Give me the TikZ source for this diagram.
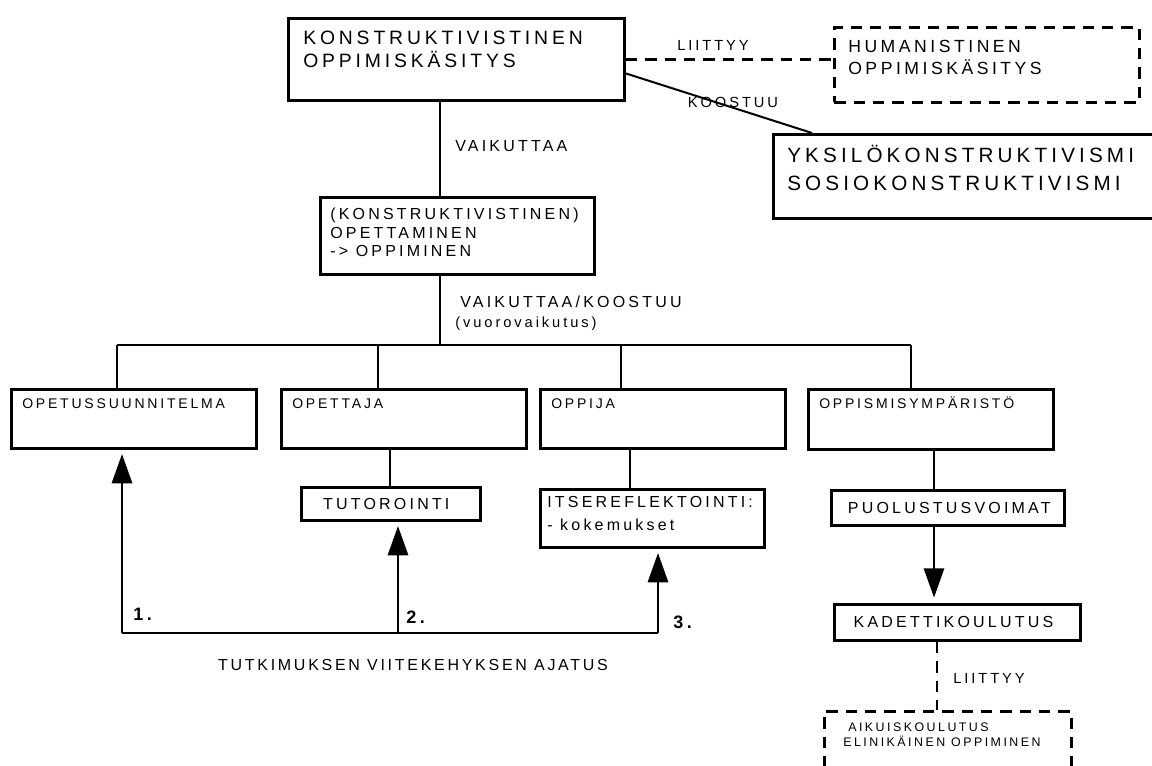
\documentclass[tikz,border=0pt]{standalone}
\usepackage{fontspec}
\setmainfont{Liberation Sans}[LetterSpace=20]
\newfontfamily\captionfont{Liberation Sans}[LetterSpace=17]
\usetikzlibrary{arrows.meta}

\tikzset{
  px/.style={x=0.75pt, y=-0.75pt},
  frame/.style 2 args={draw, line width=2.2pt, inner sep=0pt, anchor=north west,
    minimum width=#1*0.75pt, minimum height=#2*0.75pt},
  dframe/.style 2 args={frame={#1}{#2}, dash pattern=on 8.5pt off 6pt},
  link/.style={line width=2.2pt},
  dlink/.style={line width=2.2pt, dash pattern=on 8.5pt off 6pt},
  thinlink/.style={line width=1.5pt},
  uparrow/.style={line width=2.2pt, -{Triangle[length=22pt, width=15pt]}, shorten >=3pt},
  txt/.style={inner sep=0pt, anchor=base west, align=left},
  ctxt/.style={inner sep=0pt, anchor=center},
  toptext/.style={font=\fontsize{14.5pt}{17.25pt}\selectfont},
  humtext/.style={font=\fontsize{13.2pt}{16.5pt}\selectfont},
  ykstext/.style={font=\fontsize{15.5pt}{21pt}\selectfont},
  midtext/.style={font=\fontsize{12pt}{13.9pt}\selectfont},
  boxtext/.style={font=\fontsize{10.5pt}{12pt}\selectfont},
  subtext/.style={font=\fontsize{12pt}{17.25pt}\selectfont},
  labeltext/.style={font=\fontsize{11pt}{13pt}\selectfont},
  biglabel/.style={font=\fontsize{12pt}{14pt}\selectfont},
  captiontext/.style={font=\captionfont\fontsize{12pt}{14pt}\selectfont},
  smalltext/.style={font=\fontsize{9.3pt}{10.5pt}\selectfont},
  numtext/.style={font=\fontsize{13.5pt}{15pt}\selectfont\bfseries},
}

\begin{document}
\begin{tikzpicture}[px]
\useasboundingbox (0,0) rectangle (1152,766);
\clip (0,0) rectangle (1152,766);

% --- top level (text nodes are placed by the baseline of their last line) ---
\node[frame={336}{82}] (top) at (287,17) {};
\node[txt, toptext] (toptxt) at (303,68)
  {KONSTRUKTIVISTINEN\\OPPIMISKÄSITYS};

\node[dframe={305}{75}] (hum) at (833,26) {};
\node[txt, humtext] (humtxt) at (848,75) {HUMANISTINEN\\OPPIMISKÄSITYS};

\node[frame={400}{84}] (yks) at (772,133) {};
\node[txt, ykstext] (ykstxt) at (787,191)
  {YKSILÖKONSTRUKTIVISMI\\SOSIOKONSTRUKTIVISMI};

\draw[dlink] (top.east) -- (top.east -| hum.west);
\node[ctxt, labeltext] (lbl1) at (713,45) {LIITTYY};
\draw[thinlink] ([yshift=-10.5pt]top.east) -- ([xshift=30pt]yks.north west);
\node[ctxt, labeltext] (lbl2) at (733,102) {KOOSTUU};

% --- teaching box ---
\coordinate (hub) at (440,345);
\node[frame={274}{77}] (mid) at (319,196) {};
\node[txt, midtext] (midtxt) at (330,257)
  {(KONSTRUKTIVISTINEN)\\OPETTAMINEN\\-> OPPIMINEN};
\draw[link] (top.south -| hub) -- (mid.north -| hub);
\node[txt, biglabel] (lbl3) at (455,152) {VAIKUTTAA};
\draw[link] (mid.south -| hub) -- (hub);
\node[txt, biglabel] (lbl4) at (460,308) {VAIKUTTAA/KOOSTUU};
\node[txt, labeltext] (lbl5) at (455,328) {(vuorovaikutus)};

% --- four components ---
\node[frame={245}{59}] (b1) at (10,388) {};
\node[frame={245}{59}] (b2) at (280,388) {};
\node[frame={245}{59}] (b3) at (539,388) {};
\node[frame={245}{60}] (b4) at (807,388) {};
\node[txt, boxtext] (b1txt) at (22,408) {OPETUSSUUNNITELMA};
\node[txt, boxtext] (b2txt) at (292,408) {OPETTAJA};
\node[txt, boxtext] (b3txt) at (551,408) {OPPIJA};
\node[txt, boxtext] (b4txt) at (819,408) {OPPISMISYMPÄRISTÖ};

\coordinate (t1) at (117,345);
\coordinate (t2) at (378,345);
\coordinate (t3) at (621,345);
\coordinate (t4) at (911,345);
\draw[link] (t1) -- (t4);
\draw[link] (t1) -- (t1 |- b1.north);
\draw[link] (t2) -- (t2 |- b2.north);
\draw[link] (t3) -- (t3 |- b3.north);
\draw[link] (t4) -- (t4 |- b4.north);

% --- second level ---
\node[frame={179}{33}] (tut) at (300,486) {};
\node[ctxt, subtext] (tuttxt) at ([xshift=-3.5pt]tut.center) {TUTOROINTI};
\node[frame={224}{58}] (its) at (539,488) {};
\node[txt, subtext] (itstxt) at (547,530) {ITSEREFLEKTOINTI:\\- kokemukset};
\node[frame={233}{35}] (puo) at (830,489) {};
\node[ctxt, subtext] (puotxt) at ([xshift=1pt]puo.center) {PUOLUSTUSVOIMAT};

\coordinate (c2) at (390,467);
\coordinate (c3) at (630,467);
\coordinate (c4) at (934,467);
\draw[link] (b2.south -| c2) -- (tut.north -| c2);
\draw[link] (b3.south -| c3) -- (its.north -| c3);
\draw[link] (b4.south -| c4) -- (puo.north -| c4);

% --- cadet training and adult education ---
\node[frame={246}{36}] (kad) at (833,603) {};
\node[ctxt, subtext] (kadtxt) at ([xshift=-3pt]kad.center) {KADETTIKOULUTUS};
\draw[uparrow, shorten >=4pt] (puo.south -| c4) -- (kad.north -| c4);

\coordinate (c5) at (937,675);
\node[dframe={247}{80}] (aik) at (823,710) {};
\draw[dlink] (kad.south -| c5) -- (aik.north -| c5);
\node[txt, labeltext] (lbl6) at (953,683) {LIITTYY};
\node[txt, smalltext] (aiktxt1) at (848,731) {AIKUISKOULUTUS};
\node[txt, smalltext] (aiktxt2) at (843,746) {ELINIKÄINEN OPPIMINEN};

% --- research framework loop ---
\coordinate (f1) at (122,633);
\coordinate (f2) at (398,633);
\coordinate (f3) at (658,633);
\draw[link] (f1) -- (f3);
\draw[uparrow] (f1) -- (f1 |- b1.south);
\draw[uparrow] (f2) -- (f2 |- tut.south);
\draw[uparrow] (f3) -- (f3 |- its.south);
\node[txt, numtext] (n1) at (133,620) {1.};
\node[txt, numtext] (n2) at (406,623) {2.};
\node[txt, numtext] (n3) at (673,628) {3.};
\node[ctxt, captiontext] (caption) at (413,665) {TUTKIMUKSEN VIITEKEHYKSEN AJATUS};
\end{tikzpicture}
\end{document}
